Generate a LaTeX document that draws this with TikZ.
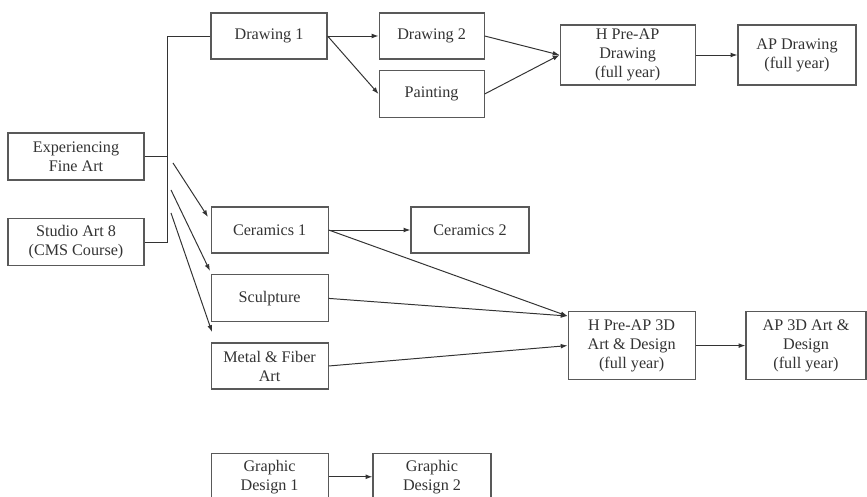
\documentclass[tikz,border=0pt]{standalone}
\usepackage{fontspec}
\setmainfont{Liberation Serif}
\usetikzlibrary{arrows.meta}
\tikzset{
    course/.style={draw=gray!70!black, line width=0.8pt, align=center, inner sep=1pt,
        minimum width=2.925cm, minimum height=1.15cm, text=black!80,
        font=\fontsize{11.5}{13.5}\selectfont},
    link/.style={draw=black!80, line width=0.7pt, -{Latex[length=1.7mm,width=1.2mm]}}
}
\begin{document}
\begin{tikzpicture}
    \useasboundingbox (0,0) rectangle (21.675,-12.425);
    % 课程方框
    \node[course, minimum width=3.4cm, minimum height=1.175cm] (exp) at (1.9,-3.9125) {Experiencing\\Fine Art};
    \node[course, minimum width=3.4cm, minimum height=1.175cm] (studio) at (1.9,-6.05) {Studio Art 8\\(CMS Course)};
    \node[course, minimum width=2.9cm] (draw1) at (6.725,-0.9) {Drawing 1};
    \node[course, minimum width=2.625cm] (draw2) at (10.79,-0.9) {Drawing 2};
    \node[course, minimum width=2.625cm, minimum height=1.175cm] (paint) at (10.79,-2.35) {Painting};
    \node[course, minimum width=3.375cm, minimum height=1.5cm] (hpad) at (15.69,-1.375) {H Pre-AP\\Drawing\\(full year)};
    \node[course, minimum width=2.95cm, minimum height=1.5cm] (apd) at (19.925,-1.375) {AP Drawing\\(full year)};
    \node[course] (cer1) at (6.74,-5.75) {Ceramics 1};
    \node[course, minimum width=2.95cm] (cer2) at (11.75,-5.75) {Ceramics 2};
    \node[course, minimum height=1.175cm] (sculp) at (6.74,-7.46) {Sculpture};
    \node[course] (metal) at (6.74,-9.15) {Metal \& Fiber\\Art};
    \node[course, minimum width=3.175cm, minimum height=1.7cm] (hp3d) at (15.79,-8.64) {H Pre-AP 3D\\Art \& Design\\(full year)};
    \node[course, minimum width=3.0cm, minimum height=1.7cm] (ap3d) at (20.15,-8.64) {AP 3D Art \&\\Design\\(full year)};
    \node[course, minimum height=1.175cm] (gd1) at (6.74,-11.92) {Graphic\\Design 1};
    \node[course, minimum width=2.95cm, minimum height=1.175cm] (gd2) at (10.8,-11.92) {Graphic\\Design 2};
    % 左侧连线
    \coordinate (jtop) at (4.175,-0.9);
    \coordinate (jbot) at (4.175,-6.05);
    \draw[draw=black!80, line width=0.7pt] (exp.east) -- (4.175,-3.9125);
    \draw[draw=black!80, line width=0.7pt] (studio.east) -- (jbot) -- (jtop) -- (draw1.west);
    % 斜箭头
    \coordinate (s1) at (4.325,-4.075);
    \coordinate (e1) at (5.2,-5.425);
    \coordinate (s2) at (4.275,-4.75);
    \coordinate (e2) at (5.25,-6.775);
    \coordinate (s3) at (4.275,-5.325);
    \coordinate (e3) at (5.3,-8.3);
    \draw[link] (s1) -- (e1);
    \draw[link] (s2) -- (e2);
    \draw[link] (s3) -- (e3);
    % 绘画路线
    \draw[link] (draw1.east) -- (draw2.west);
    \draw[link] (draw1.east) -- (paint.west);
    \draw[link] (draw2.east) -- (hpad.west);
    \draw[link] (paint.east) -- (hpad.west);
    \draw[link] (hpad.east) -- (apd.west);
    % 立体路线
    \coordinate (hp3dtop) at ([yshift=-0.125cm]hp3d.north west);
    \draw[link] (cer1.east) -- (cer2.west);
    \draw[link] (cer1.east) -- (hp3dtop);
    \draw[link] (sculp.east) -- (hp3dtop);
    \draw[link] (metal.east) -- (hp3d.west);
    \draw[link] (hp3d.east) -- (ap3d.west);
    % 平面设计
    \draw[link] (gd1.east) -- (gd2.west);
\end{tikzpicture}
\end{document}
